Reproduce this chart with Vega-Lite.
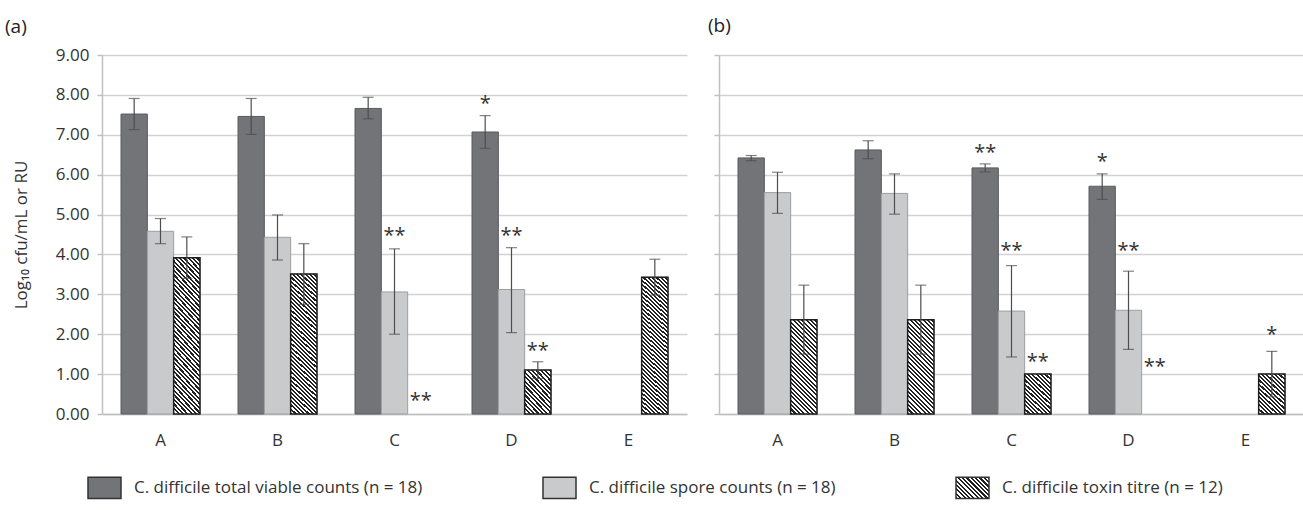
{
"$schema": "https://vega.github.io/schema/vega-lite/v6.json",
"padding": {"left": 5, "top": 17, "right": 0, "bottom": 0},
"background": "white",
"bounds": "flush",
"spacing": 32,
"config": {
  "font": "Open Sans",
  "view": {"stroke": null},
  "axis": {"labelFontSize": 17, "labelColor": "#333", "titleFontSize": 17, "titleFontWeight": "normal", "titleColor": "#333", "gridColor": "#d2d2d2", "gridWidth": 1.5, "domainColor": "#c0c0c0", "domainWidth": 1.5, "tickColor": "#c0c0c0", "tickWidth": 1.5},
  "title": {"fontSize": 19, "fontWeight": "normal", "color": "#222", "anchor": "start", "frame": "group"},
  "legend": {"labelFontSize": 17, "labelColor": "#333"}
},
"datasets": {
  "bars": [
    {"panel":"a","group":"A","series":"total","value":7.52,"lo":7.13,"hi":7.91},
    {"panel":"a","group":"A","series":"spore","value":4.58,"lo":4.27,"hi":4.90},
    {"panel":"a","group":"A","series":"toxin","value":3.92,"lo":3.40,"hi":4.44},
    {"panel":"a","group":"B","series":"total","value":7.46,"lo":7.01,"hi":7.91},
    {"panel":"a","group":"B","series":"spore","value":4.43,"lo":3.86,"hi":4.99},
    {"panel":"a","group":"B","series":"toxin","value":3.51,"lo":2.75,"hi":4.27},
    {"panel":"a","group":"C","series":"total","value":7.66,"lo":7.40,"hi":7.94},
    {"panel":"a","group":"C","series":"spore","value":3.06,"lo":2.00,"hi":4.14},
    {"panel":"a","group":"D","series":"total","value":7.07,"lo":6.66,"hi":7.48},
    {"panel":"a","group":"D","series":"spore","value":3.12,"lo":2.04,"hi":4.17},
    {"panel":"a","group":"D","series":"toxin","value":1.10,"lo":0.89,"hi":1.31},
    {"panel":"a","group":"E","series":"toxin","value":3.43,"lo":2.98,"hi":3.88},
    {"panel":"b","group":"A","series":"total","value":6.42,"lo":6.35,"hi":6.48},
    {"panel":"b","group":"A","series":"spore","value":5.55,"lo":5.03,"hi":6.06},
    {"panel":"b","group":"A","series":"toxin","value":2.36,"lo":1.50,"hi":3.23},
    {"panel":"b","group":"B","series":"total","value":6.62,"lo":6.40,"hi":6.85},
    {"panel":"b","group":"B","series":"spore","value":5.53,"lo":5.01,"hi":6.02},
    {"panel":"b","group":"B","series":"toxin","value":2.36,"lo":1.50,"hi":3.23},
    {"panel":"b","group":"C","series":"total","value":6.17,"lo":6.07,"hi":6.27},
    {"panel":"b","group":"C","series":"spore","value":2.58,"lo":1.43,"hi":3.72},
    {"panel":"b","group":"C","series":"toxin","value":1.00,"lo":null,"hi":null},
    {"panel":"b","group":"D","series":"total","value":5.71,"lo":5.38,"hi":6.02},
    {"panel":"b","group":"D","series":"spore","value":2.60,"lo":1.62,"hi":3.58},
    {"panel":"b","group":"E","series":"toxin","value":1.00,"lo":0.43,"hi":1.57}
  ],
  "stars": [
    {"panel":"a","group":"C","series":"spore","y":4.62,"label":"**"},
    {"panel":"a","group":"C","series":"toxin","y":0.47,"label":"**"},
    {"panel":"a","group":"D","series":"total","y":7.92,"label":"*"},
    {"panel":"a","group":"D","series":"spore","y":4.62,"label":"**"},
    {"panel":"a","group":"D","series":"toxin","y":1.74,"label":"**"},
    {"panel":"b","group":"C","series":"total","y":6.69,"label":"**"},
    {"panel":"b","group":"C","series":"spore","y":4.24,"label":"**"},
    {"panel":"b","group":"C","series":"toxin","y":1.45,"label":"**"},
    {"panel":"b","group":"D","series":"total","y":6.47,"label":"*"},
    {"panel":"b","group":"D","series":"spore","y":4.24,"label":"**"},
    {"panel":"b","group":"D","series":"toxin","y":1.33,"label":"**"},
    {"panel":"b","group":"E","series":"toxin","y":2.12,"label":"*"}
  ]
},
"hconcat": [
  {
    "width": 585, "height": 359,
    "title": {"text": "(a)", "dx": -97, "offset": 9},
    "encoding": {
      "x": {"field": "group", "type": "nominal", "scale": {"domain": ["A","B","C","D","E"], "paddingInner": 0.325, "paddingOuter": 0.1625}, "axis": {"title": null, "labelAngle": 0, "ticks": false, "labelPadding": 18, "grid": false}},
      "xOffset": {"field": "series", "type": "nominal", "scale": {"domain": ["total","spore","toxin"]}}
    },
    "layer": [
      {
        "data": {"name": "bars"},
        "transform": [{"filter": "datum.panel==='a'"}],
        "mark": {"type": "bar", "strokeWidth": 1},
        "encoding": {
          "y": {"field": "value", "type": "quantitative", "scale": {"domain": [0, 9], "nice": false}, "axis": {"title": "Log₁₀ cfu/mL or RU", "values": [0,1,2,3,4,5,6,7,8,9], "tickCount": 10, "format": ".2f", "tickSize": 5, "labelPadding": 8, "titlePadding": 25, "grid": true}},
          "fill": {"condition": [{"test": "datum.series==='total'", "value": "#737478"}, {"test": "datum.series==='spore'", "value": "#c9cacc"}], "value": "#8c8c8c"},
          "opacity": {"field": "series", "type": "nominal", "scale": {"domain": ["total","spore","toxin"], "range": [1, 1, 1]},
            "legend": {
              "title": null, "orient": "none", "legendX": -15, "legendY": 415, "direction": "horizontal",
              "symbolType": "M-1,-0.65H1V0.65H-1Z", "symbolSize": 1089, "symbolStrokeWidth": 1.5, "symbolStrokeColor": "#333",
              "labelOffset": 12, "columnPadding": 117, "labelFontSize": 17, "labelLimit": 400,
              "labelExpr": "datum.value==='total' ? 'C. difficile total viable counts (n = 18)' : datum.value==='spore' ? 'C. difficile spore counts (n = 18)' : 'C. difficile toxin titre (n = 12)'",
              "encoding": {"symbols": {
                "stroke": {"value": "#333"}, "strokeWidth": {"value": 1.5},
                "fill": {"condition": [{"test": "datum.value==='total'", "value": "#737478"}, {"test": "datum.value==='spore'", "value": "#c9cacc"}],
                  "value": {"gradient": "linear", "x1": 0, "y1": 1, "x2": 1.16, "y2": 0.2461, "stops": [
                    {"offset":0,"color":"#222"},{"offset":0.04,"color":"#222"},{"offset":0.04,"color":"#fff"},{"offset":0.08,"color":"#fff"},
                    {"offset":0.08,"color":"#222"},{"offset":0.12,"color":"#222"},{"offset":0.12,"color":"#fff"},{"offset":0.16,"color":"#fff"},
                    {"offset":0.16,"color":"#222"},{"offset":0.2,"color":"#222"},{"offset":0.2,"color":"#fff"},{"offset":0.24,"color":"#fff"},
                    {"offset":0.24,"color":"#222"},{"offset":0.28,"color":"#222"},{"offset":0.28,"color":"#fff"},{"offset":0.32,"color":"#fff"},
                    {"offset":0.32,"color":"#222"},{"offset":0.36,"color":"#222"},{"offset":0.36,"color":"#fff"},{"offset":0.4,"color":"#fff"},
                    {"offset":0.4,"color":"#222"},{"offset":0.44,"color":"#222"},{"offset":0.44,"color":"#fff"},{"offset":0.48,"color":"#fff"},
                    {"offset":0.48,"color":"#222"},{"offset":0.52,"color":"#222"},{"offset":0.52,"color":"#fff"},{"offset":0.56,"color":"#fff"},
                    {"offset":0.56,"color":"#222"},{"offset":0.6,"color":"#222"},{"offset":0.6,"color":"#fff"},{"offset":0.64,"color":"#fff"},
                    {"offset":0.64,"color":"#222"},{"offset":0.68,"color":"#222"},{"offset":0.68,"color":"#fff"},{"offset":0.72,"color":"#fff"},
                    {"offset":0.72,"color":"#222"},{"offset":0.76,"color":"#222"},{"offset":0.76,"color":"#fff"},{"offset":0.8,"color":"#fff"},
                    {"offset":0.8,"color":"#222"},{"offset":0.84,"color":"#222"},{"offset":0.84,"color":"#fff"},{"offset":0.88,"color":"#fff"},
                    {"offset":0.88,"color":"#222"},{"offset":0.92,"color":"#222"},{"offset":0.92,"color":"#fff"},{"offset":0.96,"color":"#fff"},
                    {"offset":0.96,"color":"#222"},{"offset":1,"color":"#222"}]}}
              }}
            }},
          "stroke": {"condition": {"test": "datum.series==='total'", "value": "#5a5b5e"}, "value": "#9d9ea0"}
        }
      },
      {
        "data": {"name": "bars"},
        "transform": [{"filter": "datum.panel==='a' && datum.series==='toxin'"}],
        "mark": {"type": "bar", "stroke": "#1e1e1e", "strokeWidth": 1.5},
        "encoding": {
          "y": {"field": "value", "type": "quantitative"},
          "fill": {
            "condition": {"test": "datum.group==='D'", "value": {"gradient": "linear", "x1": 0, "y1": 1, "x2": 0.7322, "y2": -0.1679, "stops": [
              {"offset":0,"color":"#222"},{"offset":0.032,"color":"#222"},{"offset":0.032,"color":"#fff"},{"offset":0.064,"color":"#fff"},
              {"offset":0.064,"color":"#222"},{"offset":0.096,"color":"#222"},{"offset":0.096,"color":"#fff"},{"offset":0.128,"color":"#fff"},
              {"offset":0.128,"color":"#222"},{"offset":0.16,"color":"#222"},{"offset":0.16,"color":"#fff"},{"offset":0.192,"color":"#fff"},
              {"offset":0.192,"color":"#222"},{"offset":0.224,"color":"#222"},{"offset":0.224,"color":"#fff"},{"offset":0.256,"color":"#fff"},
              {"offset":0.256,"color":"#222"},{"offset":0.288,"color":"#222"},{"offset":0.288,"color":"#fff"},{"offset":0.32,"color":"#fff"},
              {"offset":0.32,"color":"#222"},{"offset":0.352,"color":"#222"},{"offset":0.352,"color":"#fff"},{"offset":0.384,"color":"#fff"},
              {"offset":0.384,"color":"#222"},{"offset":0.416,"color":"#222"},{"offset":0.416,"color":"#fff"},{"offset":0.448,"color":"#fff"},
              {"offset":0.448,"color":"#222"},{"offset":0.48,"color":"#222"},{"offset":0.48,"color":"#fff"},{"offset":0.512,"color":"#fff"},
              {"offset":0.512,"color":"#222"},{"offset":0.544,"color":"#222"},{"offset":0.544,"color":"#fff"},{"offset":0.576,"color":"#fff"},
              {"offset":0.576,"color":"#222"},{"offset":0.608,"color":"#222"},{"offset":0.608,"color":"#fff"},{"offset":0.64,"color":"#fff"},
              {"offset":0.64,"color":"#222"},{"offset":0.672,"color":"#222"},{"offset":0.672,"color":"#fff"},{"offset":0.704,"color":"#fff"},
              {"offset":0.704,"color":"#222"},{"offset":0.736,"color":"#222"},{"offset":0.736,"color":"#fff"},{"offset":0.768,"color":"#fff"},
              {"offset":0.768,"color":"#222"},{"offset":0.8,"color":"#222"},{"offset":0.8,"color":"#fff"},{"offset":0.832,"color":"#fff"},
              {"offset":0.832,"color":"#222"},{"offset":0.864,"color":"#222"},{"offset":0.864,"color":"#fff"},{"offset":0.896,"color":"#fff"},
              {"offset":0.896,"color":"#222"},{"offset":0.928,"color":"#222"},{"offset":0.928,"color":"#fff"},{"offset":0.96,"color":"#fff"},
              {"offset":0.96,"color":"#222"},{"offset":0.992,"color":"#222"},{"offset":0.992,"color":"#fff"},{"offset":1,"color":"#fff"}]}},
            "value": {"gradient": "linear", "x1": 0, "y1": 1, "x2": 0.2046, "y2": -0.1425, "stops": [
              {"offset":0,"color":"#222"},{"offset":0.0125,"color":"#222"},{"offset":0.0125,"color":"#fff"},{"offset":0.025,"color":"#fff"},
              {"offset":0.025,"color":"#222"},{"offset":0.0375,"color":"#222"},{"offset":0.0375,"color":"#fff"},{"offset":0.05,"color":"#fff"},
              {"offset":0.05,"color":"#222"},{"offset":0.0625,"color":"#222"},{"offset":0.0625,"color":"#fff"},{"offset":0.075,"color":"#fff"},
              {"offset":0.075,"color":"#222"},{"offset":0.0875,"color":"#222"},{"offset":0.0875,"color":"#fff"},{"offset":0.1,"color":"#fff"},
              {"offset":0.1,"color":"#222"},{"offset":0.1125,"color":"#222"},{"offset":0.1125,"color":"#fff"},{"offset":0.125,"color":"#fff"},
              {"offset":0.125,"color":"#222"},{"offset":0.1375,"color":"#222"},{"offset":0.1375,"color":"#fff"},{"offset":0.15,"color":"#fff"},
              {"offset":0.15,"color":"#222"},{"offset":0.1625,"color":"#222"},{"offset":0.1625,"color":"#fff"},{"offset":0.175,"color":"#fff"},
              {"offset":0.175,"color":"#222"},{"offset":0.1875,"color":"#222"},{"offset":0.1875,"color":"#fff"},{"offset":0.2,"color":"#fff"},
              {"offset":0.2,"color":"#222"},{"offset":0.2125,"color":"#222"},{"offset":0.2125,"color":"#fff"},{"offset":0.225,"color":"#fff"},
              {"offset":0.225,"color":"#222"},{"offset":0.2375,"color":"#222"},{"offset":0.2375,"color":"#fff"},{"offset":0.25,"color":"#fff"},
              {"offset":0.25,"color":"#222"},{"offset":0.2625,"color":"#222"},{"offset":0.2625,"color":"#fff"},{"offset":0.275,"color":"#fff"},
              {"offset":0.275,"color":"#222"},{"offset":0.2875,"color":"#222"},{"offset":0.2875,"color":"#fff"},{"offset":0.3,"color":"#fff"},
              {"offset":0.3,"color":"#222"},{"offset":0.3125,"color":"#222"},{"offset":0.3125,"color":"#fff"},{"offset":0.325,"color":"#fff"},
              {"offset":0.325,"color":"#222"},{"offset":0.3375,"color":"#222"},{"offset":0.3375,"color":"#fff"},{"offset":0.35,"color":"#fff"},
              {"offset":0.35,"color":"#222"},{"offset":0.3625,"color":"#222"},{"offset":0.3625,"color":"#fff"},{"offset":0.375,"color":"#fff"},
              {"offset":0.375,"color":"#222"},{"offset":0.3875,"color":"#222"},{"offset":0.3875,"color":"#fff"},{"offset":0.4,"color":"#fff"},
              {"offset":0.4,"color":"#222"},{"offset":0.4125,"color":"#222"},{"offset":0.4125,"color":"#fff"},{"offset":0.425,"color":"#fff"},
              {"offset":0.425,"color":"#222"},{"offset":0.4375,"color":"#222"},{"offset":0.4375,"color":"#fff"},{"offset":0.45,"color":"#fff"},
              {"offset":0.45,"color":"#222"},{"offset":0.4625,"color":"#222"},{"offset":0.4625,"color":"#fff"},{"offset":0.475,"color":"#fff"},
              {"offset":0.475,"color":"#222"},{"offset":0.4875,"color":"#222"},{"offset":0.4875,"color":"#fff"},{"offset":0.5,"color":"#fff"},
              {"offset":0.5,"color":"#222"},{"offset":0.5125,"color":"#222"},{"offset":0.5125,"color":"#fff"},{"offset":0.525,"color":"#fff"},
              {"offset":0.525,"color":"#222"},{"offset":0.5375,"color":"#222"},{"offset":0.5375,"color":"#fff"},{"offset":0.55,"color":"#fff"},
              {"offset":0.55,"color":"#222"},{"offset":0.5625,"color":"#222"},{"offset":0.5625,"color":"#fff"},{"offset":0.575,"color":"#fff"},
              {"offset":0.575,"color":"#222"},{"offset":0.5875,"color":"#222"},{"offset":0.5875,"color":"#fff"},{"offset":0.6,"color":"#fff"},
              {"offset":0.6,"color":"#222"},{"offset":0.6125,"color":"#222"},{"offset":0.6125,"color":"#fff"},{"offset":0.625,"color":"#fff"},
              {"offset":0.625,"color":"#222"},{"offset":0.6375,"color":"#222"},{"offset":0.6375,"color":"#fff"},{"offset":0.65,"color":"#fff"},
              {"offset":0.65,"color":"#222"},{"offset":0.6625,"color":"#222"},{"offset":0.6625,"color":"#fff"},{"offset":0.675,"color":"#fff"},
              {"offset":0.675,"color":"#222"},{"offset":0.6875,"color":"#222"},{"offset":0.6875,"color":"#fff"},{"offset":0.7,"color":"#fff"},
              {"offset":0.7,"color":"#222"},{"offset":0.7125,"color":"#222"},{"offset":0.7125,"color":"#fff"},{"offset":0.725,"color":"#fff"},
              {"offset":0.725,"color":"#222"},{"offset":0.7375,"color":"#222"},{"offset":0.7375,"color":"#fff"},{"offset":0.75,"color":"#fff"},
              {"offset":0.75,"color":"#222"},{"offset":0.7625,"color":"#222"},{"offset":0.7625,"color":"#fff"},{"offset":0.775,"color":"#fff"},
              {"offset":0.775,"color":"#222"},{"offset":0.7875,"color":"#222"},{"offset":0.7875,"color":"#fff"},{"offset":0.8,"color":"#fff"},
              {"offset":0.8,"color":"#222"},{"offset":0.8125,"color":"#222"},{"offset":0.8125,"color":"#fff"},{"offset":0.825,"color":"#fff"},
              {"offset":0.825,"color":"#222"},{"offset":0.8375,"color":"#222"},{"offset":0.8375,"color":"#fff"},{"offset":0.85,"color":"#fff"},
              {"offset":0.85,"color":"#222"},{"offset":0.8625,"color":"#222"},{"offset":0.8625,"color":"#fff"},{"offset":0.875,"color":"#fff"},
              {"offset":0.875,"color":"#222"},{"offset":0.8875,"color":"#222"},{"offset":0.8875,"color":"#fff"},{"offset":0.9,"color":"#fff"},
              {"offset":0.9,"color":"#222"},{"offset":0.9125,"color":"#222"},{"offset":0.9125,"color":"#fff"},{"offset":0.925,"color":"#fff"},
              {"offset":0.925,"color":"#222"},{"offset":0.9375,"color":"#222"},{"offset":0.9375,"color":"#fff"},{"offset":0.95,"color":"#fff"},
              {"offset":0.95,"color":"#222"},{"offset":0.9625,"color":"#222"},{"offset":0.9625,"color":"#fff"},{"offset":0.975,"color":"#fff"},
              {"offset":0.975,"color":"#222"},{"offset":0.9875,"color":"#222"},{"offset":0.9875,"color":"#fff"},{"offset":1,"color":"#fff"}]}
          }
        }
      },
      {
        "data": {"name": "bars"},
        "transform": [{"filter": "datum.panel==='a' && isValid(datum.lo)"}],
        "mark": {"type": "rule", "color": "#4d4d4d", "strokeWidth": 1.2},
        "encoding": {
          "y": {"field": "lo", "type": "quantitative"},
          "y2": {"field": "hi"}
        }
      },
      {
        "data": {"name": "bars"},
        "transform": [{"filter": "datum.panel==='a' && isValid(datum.lo)"}],
        "mark": {"type": "tick", "color": "#4d4d4d", "thickness": 1.2},
        "encoding": {
          "y": {"field": "lo", "type": "quantitative"},
          "size": {"value": 11}
        }
      },
      {
        "data": {"name": "bars"},
        "transform": [{"filter": "datum.panel==='a' && isValid(datum.hi)"}],
        "mark": {"type": "tick", "color": "#4d4d4d", "thickness": 1.2},
        "encoding": {
          "y": {"field": "hi", "type": "quantitative"},
          "size": {"value": 11}
        }
      },
      {
        "data": {"name": "stars"},
        "transform": [{"filter": "datum.panel==='a'"}],
        "mark": {"type": "text", "fontSize": 20, "color": "#333", "dy": 6},
        "encoding": {
          "y": {"field": "y", "type": "quantitative"},
          "text": {"field": "label"}
        }
      }
    ]
  },
  {
    "width": 585, "height": 359,
    "title": {"text": "(b)", "dx": -11, "offset": 18},
    "encoding": {
      "x": {"field": "group", "type": "nominal", "scale": {"domain": ["A","B","C","D","E"], "paddingInner": 0.325, "paddingOuter": 0.1625}, "axis": {"title": null, "labelAngle": 0, "ticks": false, "labelPadding": 18, "grid": false}},
      "xOffset": {"field": "series", "type": "nominal", "scale": {"domain": ["total","spore","toxin"]}}
    },
    "layer": [
      {
        "data": {"name": "bars"},
        "transform": [{"filter": "datum.panel==='b'"}],
        "mark": {"type": "bar", "strokeWidth": 1},
        "encoding": {
          "y": {"field": "value", "type": "quantitative", "scale": {"domain": [0, 9], "nice": false}, "axis": {"title": null, "labels": false, "values": [0,1,2,3,4,5,6,7,8,9], "tickCount": 10, "tickSize": 5, "grid": true}},
          "fill": {"condition": [{"test": "datum.series==='total'", "value": "#737478"}, {"test": "datum.series==='spore'", "value": "#c9cacc"}], "value": "#8c8c8c"},
          "stroke": {"condition": {"test": "datum.series==='total'", "value": "#5a5b5e"}, "value": "#9d9ea0"}
        }
      },
      {
        "data": {"name": "bars"},
        "transform": [{"filter": "datum.panel==='b' && datum.series==='toxin'"}],
        "mark": {"type": "bar", "stroke": "#1e1e1e", "strokeWidth": 1.5},
        "encoding": {
          "y": {"field": "value", "type": "quantitative"},
          "fill": {
            "condition": {"test": "datum.group==='A' || datum.group==='B'", "value": {"gradient": "linear", "x1": 0, "y1": 1, "x2": 0.332, "y2": -0.1868, "stops": [
              {"offset":0,"color":"#222"},{"offset":0.018,"color":"#222"},{"offset":0.018,"color":"#fff"},{"offset":0.036,"color":"#fff"},
              {"offset":0.036,"color":"#222"},{"offset":0.054,"color":"#222"},{"offset":0.054,"color":"#fff"},{"offset":0.072,"color":"#fff"},
              {"offset":0.072,"color":"#222"},{"offset":0.09,"color":"#222"},{"offset":0.09,"color":"#fff"},{"offset":0.108,"color":"#fff"},
              {"offset":0.108,"color":"#222"},{"offset":0.126,"color":"#222"},{"offset":0.126,"color":"#fff"},{"offset":0.144,"color":"#fff"},
              {"offset":0.144,"color":"#222"},{"offset":0.162,"color":"#222"},{"offset":0.162,"color":"#fff"},{"offset":0.18,"color":"#fff"},
              {"offset":0.18,"color":"#222"},{"offset":0.198,"color":"#222"},{"offset":0.198,"color":"#fff"},{"offset":0.216,"color":"#fff"},
              {"offset":0.216,"color":"#222"},{"offset":0.234,"color":"#222"},{"offset":0.234,"color":"#fff"},{"offset":0.252,"color":"#fff"},
              {"offset":0.252,"color":"#222"},{"offset":0.27,"color":"#222"},{"offset":0.27,"color":"#fff"},{"offset":0.288,"color":"#fff"},
              {"offset":0.288,"color":"#222"},{"offset":0.306,"color":"#222"},{"offset":0.306,"color":"#fff"},{"offset":0.324,"color":"#fff"},
              {"offset":0.324,"color":"#222"},{"offset":0.342,"color":"#222"},{"offset":0.342,"color":"#fff"},{"offset":0.36,"color":"#fff"},
              {"offset":0.36,"color":"#222"},{"offset":0.378,"color":"#222"},{"offset":0.378,"color":"#fff"},{"offset":0.396,"color":"#fff"},
              {"offset":0.396,"color":"#222"},{"offset":0.414,"color":"#222"},{"offset":0.414,"color":"#fff"},{"offset":0.432,"color":"#fff"},
              {"offset":0.432,"color":"#222"},{"offset":0.45,"color":"#222"},{"offset":0.45,"color":"#fff"},{"offset":0.468,"color":"#fff"},
              {"offset":0.468,"color":"#222"},{"offset":0.486,"color":"#222"},{"offset":0.486,"color":"#fff"},{"offset":0.504,"color":"#fff"},
              {"offset":0.504,"color":"#222"},{"offset":0.522,"color":"#222"},{"offset":0.522,"color":"#fff"},{"offset":0.54,"color":"#fff"},
              {"offset":0.54,"color":"#222"},{"offset":0.558,"color":"#222"},{"offset":0.558,"color":"#fff"},{"offset":0.576,"color":"#fff"},
              {"offset":0.576,"color":"#222"},{"offset":0.594,"color":"#222"},{"offset":0.594,"color":"#fff"},{"offset":0.612,"color":"#fff"},
              {"offset":0.612,"color":"#222"},{"offset":0.63,"color":"#222"},{"offset":0.63,"color":"#fff"},{"offset":0.648,"color":"#fff"},
              {"offset":0.648,"color":"#222"},{"offset":0.666,"color":"#222"},{"offset":0.666,"color":"#fff"},{"offset":0.684,"color":"#fff"},
              {"offset":0.684,"color":"#222"},{"offset":0.702,"color":"#222"},{"offset":0.702,"color":"#fff"},{"offset":0.72,"color":"#fff"},
              {"offset":0.72,"color":"#222"},{"offset":0.738,"color":"#222"},{"offset":0.738,"color":"#fff"},{"offset":0.756,"color":"#fff"},
              {"offset":0.756,"color":"#222"},{"offset":0.774,"color":"#222"},{"offset":0.774,"color":"#fff"},{"offset":0.792,"color":"#fff"},
              {"offset":0.792,"color":"#222"},{"offset":0.81,"color":"#222"},{"offset":0.81,"color":"#fff"},{"offset":0.828,"color":"#fff"},
              {"offset":0.828,"color":"#222"},{"offset":0.846,"color":"#222"},{"offset":0.846,"color":"#fff"},{"offset":0.864,"color":"#fff"},
              {"offset":0.864,"color":"#222"},{"offset":0.882,"color":"#222"},{"offset":0.882,"color":"#fff"},{"offset":0.9,"color":"#fff"},
              {"offset":0.9,"color":"#222"},{"offset":0.918,"color":"#222"},{"offset":0.918,"color":"#fff"},{"offset":0.936,"color":"#fff"},
              {"offset":0.936,"color":"#222"},{"offset":0.954,"color":"#222"},{"offset":0.954,"color":"#fff"},{"offset":0.972,"color":"#fff"},
              {"offset":0.972,"color":"#222"},{"offset":0.99,"color":"#222"},{"offset":0.99,"color":"#fff"},{"offset":1,"color":"#fff"}]}},
            "value": {"gradient": "linear", "x1": 0, "y1": 1, "x2": 0.7322, "y2": -0.1679, "stops": [
              {"offset":0,"color":"#222"},{"offset":0.032,"color":"#222"},{"offset":0.032,"color":"#fff"},{"offset":0.064,"color":"#fff"},
              {"offset":0.064,"color":"#222"},{"offset":0.096,"color":"#222"},{"offset":0.096,"color":"#fff"},{"offset":0.128,"color":"#fff"},
              {"offset":0.128,"color":"#222"},{"offset":0.16,"color":"#222"},{"offset":0.16,"color":"#fff"},{"offset":0.192,"color":"#fff"},
              {"offset":0.192,"color":"#222"},{"offset":0.224,"color":"#222"},{"offset":0.224,"color":"#fff"},{"offset":0.256,"color":"#fff"},
              {"offset":0.256,"color":"#222"},{"offset":0.288,"color":"#222"},{"offset":0.288,"color":"#fff"},{"offset":0.32,"color":"#fff"},
              {"offset":0.32,"color":"#222"},{"offset":0.352,"color":"#222"},{"offset":0.352,"color":"#fff"},{"offset":0.384,"color":"#fff"},
              {"offset":0.384,"color":"#222"},{"offset":0.416,"color":"#222"},{"offset":0.416,"color":"#fff"},{"offset":0.448,"color":"#fff"},
              {"offset":0.448,"color":"#222"},{"offset":0.48,"color":"#222"},{"offset":0.48,"color":"#fff"},{"offset":0.512,"color":"#fff"},
              {"offset":0.512,"color":"#222"},{"offset":0.544,"color":"#222"},{"offset":0.544,"color":"#fff"},{"offset":0.576,"color":"#fff"},
              {"offset":0.576,"color":"#222"},{"offset":0.608,"color":"#222"},{"offset":0.608,"color":"#fff"},{"offset":0.64,"color":"#fff"},
              {"offset":0.64,"color":"#222"},{"offset":0.672,"color":"#222"},{"offset":0.672,"color":"#fff"},{"offset":0.704,"color":"#fff"},
              {"offset":0.704,"color":"#222"},{"offset":0.736,"color":"#222"},{"offset":0.736,"color":"#fff"},{"offset":0.768,"color":"#fff"},
              {"offset":0.768,"color":"#222"},{"offset":0.8,"color":"#222"},{"offset":0.8,"color":"#fff"},{"offset":0.832,"color":"#fff"},
              {"offset":0.832,"color":"#222"},{"offset":0.864,"color":"#222"},{"offset":0.864,"color":"#fff"},{"offset":0.896,"color":"#fff"},
              {"offset":0.896,"color":"#222"},{"offset":0.928,"color":"#222"},{"offset":0.928,"color":"#fff"},{"offset":0.96,"color":"#fff"},
              {"offset":0.96,"color":"#222"},{"offset":0.992,"color":"#222"},{"offset":0.992,"color":"#fff"},{"offset":1,"color":"#fff"}]}
          }
        }
      },
      {
        "data": {"name": "bars"},
        "transform": [{"filter": "datum.panel==='b' && isValid(datum.lo)"}],
        "mark": {"type": "rule", "color": "#4d4d4d", "strokeWidth": 1.2},
        "encoding": {
          "y": {"field": "lo", "type": "quantitative"},
          "y2": {"field": "hi"}
        }
      },
      {
        "data": {"name": "bars"},
        "transform": [{"filter": "datum.panel==='b' && isValid(datum.lo)"}],
        "mark": {"type": "tick", "color": "#4d4d4d", "thickness": 1.2},
        "encoding": {
          "y": {"field": "lo", "type": "quantitative"},
          "size": {"value": 11}
        }
      },
      {
        "data": {"name": "bars"},
        "transform": [{"filter": "datum.panel==='b' && isValid(datum.hi)"}],
        "mark": {"type": "tick", "color": "#4d4d4d", "thickness": 1.2},
        "encoding": {
          "y": {"field": "hi", "type": "quantitative"},
          "size": {"value": 11}
        }
      },
      {
        "data": {"name": "stars"},
        "transform": [{"filter": "datum.panel==='b'"}],
        "mark": {"type": "text", "fontSize": 20, "color": "#333", "dy": 6},
        "encoding": {
          "y": {"field": "y", "type": "quantitative"},
          "text": {"field": "label"}
        }
      }
    ]
  }
]
}
